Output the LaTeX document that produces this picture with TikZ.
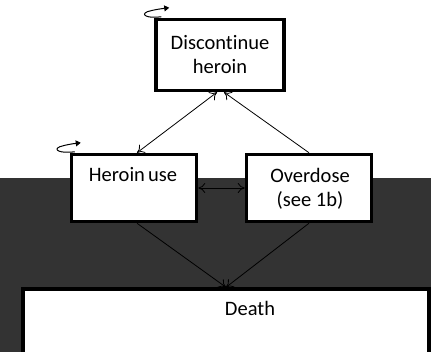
\documentclass[tikz,border=0pt]{standalone}
\usepackage{fontspec}
\setmainfont[Ligatures={NoCommon}]{Carlito}
\usetikzlibrary{arrows.meta}
\definecolor{panel}{HTML}{333333}
\tikzset{
  stagebox/.style={draw=black, line width=3.5pt, fill=white, inner sep=0pt},
  caption/.style={font=\fontsize{20.5}{24}\selectfont, align=center, inner sep=0pt, anchor=center},
  link/.style={draw=black, line width=0.8pt},
  >={To[length=7pt,width=10pt]},
  selfloop/.style={draw=black, line width=1pt, -{Triangle[length=5pt,width=6pt]}}
}
\begin{document}
\begin{tikzpicture}[x=1pt,y=-1pt]
  \useasboundingbox (0,0) rectangle (431,352);
  \clip (0,0) rectangle (431,352);
  % lower dark panel
  \fill[panel] (0,178) rectangle (431,352);

  % stage boxes
  \node[stagebox, minimum width=128pt, minimum height=71pt] (disc) at (220,55) {};
  \node[stagebox, minimum width=125pt, minimum height=67pt] (use) at (134,188) {};
  \node[stagebox, minimum width=125pt, minimum height=67pt] (od) at (309,188) {};
  \node[stagebox, minimum width=406pt, minimum height=80pt] (death) at (226,329) {};

  % box captions
  \node[caption] (discT) at (220,55) {Discontinue\\heroin};
  \node[caption] (useT) at (133,175) {Heroin\kern-1.5pt\ use};
  \node[caption] (odT) at (310,189) {Overdose\\(see 1b)};
  \node[caption] (deathT) at (250,308) {Death};

  % transitions
  \draw[link, <->] ([xshift=3pt]use.north) -- ([xshift=-3pt]disc.south);
  \draw[link, ->] (od.north) -- ([xshift=4pt]disc.south);
  \draw[link, <->] (use.east) -- (od.west);
  \draw[link, ->] ([xshift=3pt]use.south) -- (death.north);
  \draw[link, ->] (od.south) -- (death.north);

  % self-transitions at the upper left corners
  \draw[selfloop] ([shift={(7,-1)}]disc.north west)
    .. controls +(-14,2) and +(-7,3) .. ([shift={(-7,-6)}]disc.north west)
    .. controls +(6,-2) and +(-8,1) .. ([shift={(15,-10)}]disc.north west);
  \draw[selfloop] ([shift={(5,-1)}]use.north west)
    .. controls +(-15,2) and +(-7,3) .. ([shift={(-10,-6)}]use.north west)
    .. controls +(6,-2) and +(-8,1) .. ([shift={(11,-10)}]use.north west);
\end{tikzpicture}
\end{document}
